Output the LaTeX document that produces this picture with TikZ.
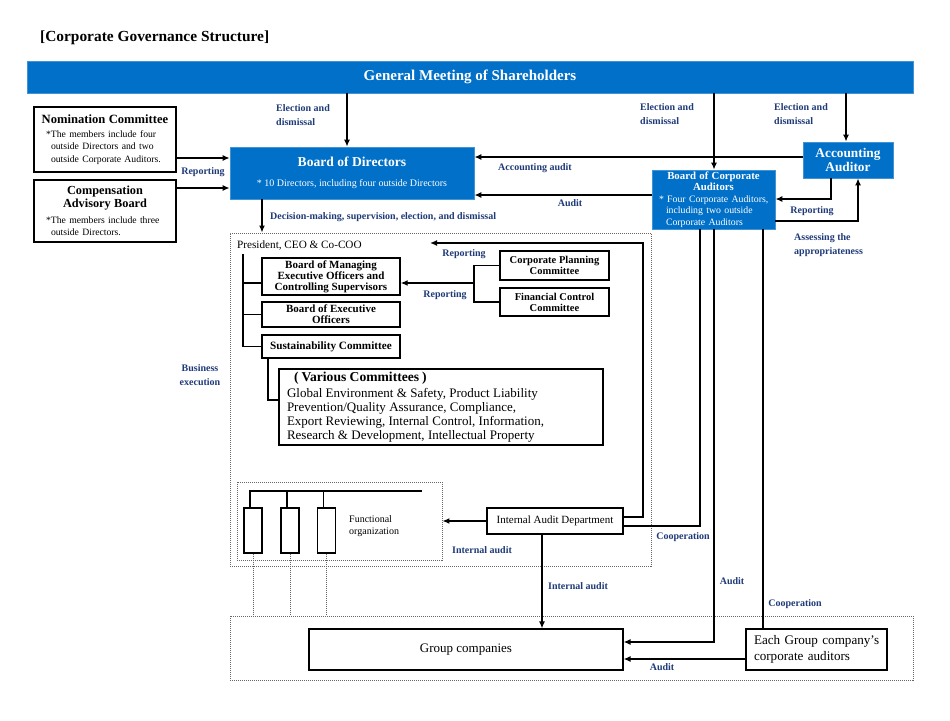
\documentclass[tikz,border=0pt]{standalone}
\usepackage{fontspec}
\setmainfont{Liberation Serif}
\usetikzlibrary{positioning,calc,arrows.meta}
\definecolor{govblue}{HTML}{0070C8}
\definecolor{labelnavy}{HTML}{1F3A78}

\begin{document}
\begin{tikzpicture}[x=1pt,y=-1pt]
  \tikzset{bluebox/.style={
      draw=govblue!75!white, fill=govblue, text=white, inner sep=0pt, line width=0.8pt
    },
    plainbox/.style={draw, fill=white, inner sep=0pt, line width=1.4pt},
    dotbox/.style={draw=black!60, dash pattern=on 1pt off 1pt, line width=0.9pt, inner sep=0pt},
    conn/.style={line width=1.3pt},
    arr/.style={conn, -{Latex[length=7pt,width=6pt]}},
    lbl/.style={font=\fontsize{10}{14}\selectfont\bfseries, text=labelnavy, inner sep=0pt, align=left},
    boldbox/.style={plainbox, align=center, font=\fontsize{11}{11}\selectfont\bfseries}
  }

  \useasboundingbox (0,0) rectangle (950,720);

  % title and top bar
  \node[anchor=west, inner sep=0pt, font=\fontsize{15.4}{17}\selectfont\bfseries] (title) at (40,38) {[Corporate Governance Structure]};
  \node[bluebox, minimum width=886pt, minimum height=32pt, font=\fontsize{15}{17}\selectfont\bfseries] (gms) at (470,77) {General Meeting of Shareholders};

  % advisory bodies
  \node[plainbox, minimum width=142pt, minimum height=65pt, text width=134pt] (nomination) at (105,139.5)
    {{\centering\fontsize{12.6}{14}\selectfont\bfseries Nomination Committee\par}\vspace{1pt}
     \raggedright\fontsize{9.7}{12.5}\selectfont\hspace*{8pt}*The members include four\\\hspace*{13pt}outside Directors and two\\\hspace*{13pt}outside Corporate Auditors.\par};
  \node[plainbox, minimum width=142pt, minimum height=62pt, text width=134pt] (compensation) at (105,211)
    {{\centering\fontsize{12.3}{13}\selectfont\bfseries Compensation\\Advisory Board\par}\vspace{3pt}
     \raggedright\fontsize{9.7}{12.5}\selectfont\hspace*{8pt}*The members include three\\\hspace*{13pt}outside Directors.\par};

  % boards
  \node[bluebox, minimum width=244pt, minimum height=52pt, align=center] (board) at (352,173)
    {{\fontsize{13.6}{15}\selectfont\bfseries Board of Directors}\\[8pt]{\fontsize{10}{11}\selectfont * 10 Directors, including four outside Directors}};
  \node[bluebox, minimum width=90pt, minimum height=36pt, align=center, font=\fontsize{13.3}{14}\selectfont\bfseries] (accaud) at (848,160) {Accounting\\Auditor};
  \node[bluebox, minimum width=123pt, minimum height=59pt, text width=115pt] (auditors) at (713.5,199.5)
    {{\centering\fontsize{10.8}{11}\selectfont\bfseries Board of Corporate\\Auditors\par}
     \raggedright\fontsize{9.8}{11.5}\selectfont\hspace*{3pt}* Four Corporate Auditors,\\\hspace*{10pt}including two outside\\\hspace*{10pt}Corporate Auditors\par};

  % business execution
  \node[dotbox, minimum width=421pt, minimum height=333pt] (execution) at (440.5,399.5) {};
  \node[anchor=west, inner sep=0pt, font=\fontsize{11.2}{12}\selectfont] (president) at (237,245) {President, CEO \& Co-COO};
  \node[boldbox, minimum width=138pt, minimum height=37pt] (bmeo) at (331,276.5) {Board of Managing\\Executive Officers and\\Controlling Supervisors};
  \node[boldbox, minimum width=138pt, minimum height=25pt] (boeo) at (331,314.5) {Board of Executive\\Officers};
  \node[boldbox, minimum width=138pt, minimum height=23pt, font=\fontsize{11.2}{12}\selectfont\bfseries] (sustain) at (331,346.5) {Sustainability Committee};
  \node[plainbox, minimum width=324pt, minimum height=76pt, text width=314pt] (various) at (441,407)
    {\raggedright{\fontsize{13.6}{15}\selectfont\bfseries\hspace*{10pt}(\hspace{3pt}Various Committees\hspace{3pt})\par}\vspace{2pt}
     \fontsize{13}{13.9}\selectfont\hspace*{3pt}Global Environment \& Safety, Product Liability\\\hspace*{3pt}Prevention/Quality Assurance, Compliance,\\\hspace*{3pt}Export Reviewing, Internal Control, Information,\\\hspace*{3pt}Research \& Development, Intellectual Property\par};
  \node[boldbox, minimum width=109pt, minimum height=29pt, font=\fontsize{10.5}{11}\selectfont\bfseries] (planning) at (554.5,265.5) {Corporate Planning\\Committee};
  \node[boldbox, minimum width=109pt, minimum height=28pt, font=\fontsize{10.5}{11}\selectfont\bfseries] (financial) at (554.5,302) {Financial Control\\Committee};

  % functional organization
  \node[dotbox, minimum width=205pt, minimum height=78pt] (funcbox) at (339.5,521) {};
  \node[anchor=west, inner sep=0pt, align=left, font=\fontsize{10}{11.5}\selectfont] (funclabel) at (349,526) {Functional\\organization};
  \draw[conn] (250,491) -- (422,491);
  \foreach \x [count=\i] in {253,290,326.5} {
    \node[draw, line width=1.2pt, minimum width=18pt, minimum height=45pt, inner sep=0pt] (unit\i) at (\x,530.5) {};
    \draw[conn] ($(unit\i.north)+(-3,0)$) -- ++(0,-17);
  }
  \node[plainbox, line width=1.2pt, minimum width=136pt, minimum height=26pt, font=\fontsize{11}{12}\selectfont] (iad) at (555,521) {Internal Audit Department};

  % group
  \node[dotbox, minimum width=683pt, minimum height=64pt] (groupbox) at (571.5,648) {};
  \node[plainbox, line width=1.2pt, minimum width=314pt, minimum height=41pt, font=\fontsize{13}{14}\selectfont] (gc) at (466,649.5) {Group companies};
  \node[plainbox, line width=1.2pt, minimum width=141pt, minimum height=41pt, text width=129pt, align=left, font=\fontsize{13.1}{16}\selectfont] (egca) at (816.5,649.5) {\hspace*{2pt}Each Group company’s\\\hspace*{2pt}corporate auditors};
  \foreach \i in {1,2,3} {
    \draw[dotbox] (unit\i.south) -- (unit\i.south |- groupbox.north);
  }

  % connectors
  \draw[arr] (gms.south -| 347,0) -- (board.north -| 347,0);
  \draw[arr] (gms.south -| 714,0) -- (auditors.north -| 714,0);
  \draw[arr] (gms.south -| 846,0) -- (accaud.north -| 846,0);
  \draw[arr] (nomination.east |- 0,158) -- (board.west |- 0,158);
  \draw[arr] (compensation.east |- 0,188) -- (board.west |- 0,188);
  \draw[arr] (accaud.west |- 0,157) -- (board.east |- 0,157);
  \draw[arr] (auditors.west |- 0,195) -- (board.east |- 0,195);
  \draw[arr] (accaud.south -| 831,0) |- (auditors.east |- 0,199);
  \draw[arr] (auditors.east |- 0,221) -| (accaud.south -| 858,0);
  \draw[arr] (board.south -| 262,0) -- (execution.north -| 262,0);

  \coordinate (spine) at (243,254);
  \draw[conn] (spine) |- (sustain.west);
  \draw[conn] (spine |- 0,283) -- (bmeo.west |- 0,283);
  \draw[conn] (spine |- boeo.west) -- (boeo.west);
  \draw[conn] (sustain.south -| 268,0) |- (various.west |- 0,400);

  \coordinate (bracket) at (474,283);
  \draw[conn] (planning.west) -| (bracket) |- (financial.west);
  \draw[arr] (bracket) -- (bmeo.east |- bracket);

  \coordinate (reporttip) at (430,243);
  \draw[arr] (iad.east |- 0,517) -| (643,243) -- (reporttip);
  \draw[arr] (iad.west) -- (funcbox.east |- iad.west);
  \draw[conn] (iad.east |- 0,526) -| (auditors.south -| 700,0);
  \draw[arr] (auditors.south -| 714,0) |- (gc.east |- 0,642);
  \draw[conn] (auditors.south -| 763,0) -- (egca.north -| 763,0);
  \draw[arr] (egca.west |- 0,659) -- (gc.east |- 0,659);
  \draw[arr] (iad.south -| 542,0) -- (gc.north -| 542,0);

  % labels
  \node[lbl, anchor=west] at (276,115) {Election and\\dismissal};
  \node[lbl, anchor=west] at (640,114) {Election and\\dismissal};
  \node[lbl, anchor=west] at (774,114) {Election and\\dismissal};
  \node[lbl] at (203,172) {Reporting};
  \node[lbl, anchor=west] at (270,217) {Decision-making, supervision, election, and dismissal};
  \node[lbl] at (535,168) {Accounting audit};
  \node[lbl] at (570,203) {Audit};
  \node[lbl] at (812,211) {Reporting};
  \node[lbl, anchor=west] at (794,245) {Assessing the\\appropriateness};
  \node[lbl] at (464,254) {Reporting};
  \node[lbl] at (445,295) {Reporting};
  \node[lbl, align=center] at (200,375) {Business\\execution};
  \node[lbl] at (482,550) {Internal audit};
  \node[lbl] at (578,586) {Internal audit};
  \node[lbl] at (683,537) {Cooperation};
  \node[lbl] at (732,581) {Audit};
  \node[lbl] at (795,604) {Cooperation};
  \node[lbl] at (662,667) {Audit};
\end{tikzpicture}
\end{document}
